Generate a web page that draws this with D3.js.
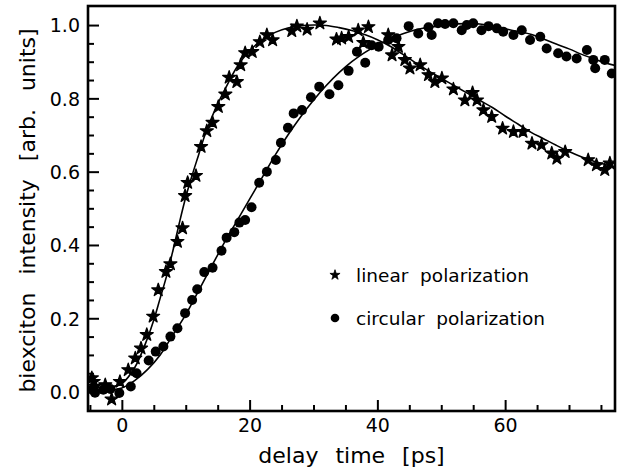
<!DOCTYPE html>
<html><head><meta charset="utf-8">
<script src="https://cdn.jsdelivr.net/npm/d3@7"></script>
<style>
html,body{margin:0;padding:0;background:#fff;}
svg{display:block;font-family:"DejaVu Sans",sans-serif;}
</style></head>
<body>
<svg id="chart" width="623" height="470"></svg>
<script>
// ---- data ----
const linearT = [-4.7,-4.4,-4.2,-2.6,-1.6,-0.3,1.0,2.1,3.0,3.9,4.9,5.7,6.9,7.6,8.7,9.5,9.9,10.3,11.6,12.4,13.3,14.2,15.1,16.2,16.8,18.0,18.6,19.3,20.4,21.6,22.7,23.6,26.6,27.4,29.0,31.0,33.6,34.4,35.5,37.0,37.8,38.6,41.7,42.3,43.3,44.3,45.1,46.7,48.0,49.0,50.1,51.9,53.7,54.9,55.6,56.6,57.9,59.6,61.3,62.8,64.2,65.7,67.3,68.1,69.4,73.0,74.3,75.6,76.4];
const linearV = [0.037,0.027,0.014,0.018,-0.021,0.027,0.059,0.091,0.118,0.155,0.205,0.277,0.327,0.348,0.409,0.446,0.534,0.570,0.589,0.668,0.711,0.734,0.777,0.811,0.857,0.845,0.891,0.924,0.927,0.954,0.973,0.959,0.984,0.997,0.988,1.005,0.961,0.964,0.968,0.986,0.952,0.995,0.973,0.918,0.941,0.905,0.882,0.891,0.864,0.845,0.855,0.825,0.795,0.815,0.795,0.768,0.750,0.718,0.709,0.709,0.677,0.673,0.650,0.636,0.654,0.632,0.618,0.605,0.623];
const circularT = [-4.6,-4.2,-2.9,-1.8,-0.4,1.4,2.3,4.2,5.3,6.5,7.6,8.7,9.9,11.0,11.8,12.9,14.2,15.6,16.4,17.6,18.4,19.3,20.3,21.5,22.7,24.1,24.9,26.0,26.9,28.2,29.6,30.9,32.5,33.9,35.5,36.8,38.1,39.1,40.2,41.7,43.0,44.9,46.4,48.0,48.5,49.5,50.6,51.9,53.2,54.0,55.0,56.3,57.4,58.7,59.7,61.3,62.6,63.9,65.5,66.5,68.3,69.6,71.2,72.8,73.8,74.1,75.6,76.7];
const circularV = [0.005,-0.003,0.005,0.007,-0.004,0.014,0.050,0.085,0.109,0.123,0.150,0.173,0.214,0.250,0.279,0.326,0.338,0.384,0.420,0.435,0.461,0.468,0.503,0.570,0.600,0.632,0.679,0.720,0.759,0.768,0.803,0.832,0.811,0.836,0.875,0.927,0.897,0.945,0.941,0.959,0.964,0.997,0.977,0.994,0.973,1.005,1.003,1.005,0.986,1.000,1.005,0.986,0.997,0.991,0.982,0.973,0.986,0.959,0.968,0.936,0.923,0.914,0.909,0.932,0.905,0.882,0.905,0.868];
const linearFitT = [-5.3,-2,0,2,4,5,6,7,8,9,10,11,12,13,14,15,16,18,20,22,24,26,28,30,32,34,36,38,40,42,44,46,48,50,52,54,56,58,60,62,64,66,68,70,72,74,76,77.2];
const linearFitV = [0.012,0.012,0.022,0.065,0.145,0.195,0.255,0.315,0.385,0.46,0.53,0.59,0.645,0.70,0.745,0.785,0.82,0.885,0.93,0.96,0.98,0.992,0.998,1.0,0.999,0.993,0.985,0.974,0.96,0.942,0.92,0.897,0.875,0.855,0.835,0.815,0.795,0.775,0.752,0.73,0.708,0.69,0.672,0.655,0.64,0.628,0.618,0.612];
const circularFitT = [-5.3,-2,0,2,4,6,8,10,12,14,16,18,20,22,24,26,28,30,32,34,36,38,40,42,44,46,48,50,52,54,56,58,60,62,64,66,68,70,72,74,76,77.2];
const circularFitV = [0.005,0.005,0.01,0.03,0.06,0.10,0.155,0.21,0.275,0.34,0.405,0.465,0.525,0.585,0.645,0.70,0.75,0.795,0.835,0.87,0.90,0.925,0.945,0.962,0.976,0.987,0.994,0.998,1.003,1.004,1.003,0.997,0.99,0.982,0.975,0.962,0.948,0.935,0.92,0.907,0.895,0.89];
const xMajorTicks = [0,20,40,60];
const xMinorTicks = [-5,5,10,15,25,30,35,45,50,55,65,70,75];
const yMajorTicks = [0.0,0.2,0.4,0.6,0.8,1.0];
const yMinorTicks = [0.05,0.1,0.15,0.25,0.3,0.35,0.45,0.5,0.55,0.65,0.7,0.75,0.85,0.9,0.95];
const legendLabels = ["linear  polarization","circular  polarization"];
const xTitle = "delay time [ps]";
const yTitle = "biexciton intensity [arb. units]";

// ---- drawing ----
const svg = d3.select("#chart");
const L = 88, R = 615, T = 6, B = 411;
const x = d3.scaleLinear().domain([-5.3, 77.2]).range([L, R]);
const y = d3.scaleLinear().domain([-0.053, 1.052]).range([B, T]);

svg.append("defs").append("clipPath").attr("id","clip")
  .append("rect").attr("x",L).attr("y",T).attr("width",R-L).attr("height",B-T);

// axes
const ax = svg.append("g").attr("transform",`translate(0,${B})`)
  .call(d3.axisBottom(x).tickValues(xMajorTicks).tickSize(-11).tickPadding(7.5).tickFormat(d3.format("d")));
const axm = svg.append("g").attr("transform",`translate(0,${B})`)
  .call(d3.axisBottom(x).tickValues(xMinorTicks).tickSize(-6).tickFormat(""));
const ay = svg.append("g").attr("transform",`translate(${L},0)`)
  .call(d3.axisLeft(y).tickValues(yMajorTicks).tickSize(-11).tickPadding(8).tickFormat(d3.format(".1f")));
const aym = svg.append("g").attr("transform",`translate(${L},0)`)
  .call(d3.axisLeft(y).tickValues(yMinorTicks).tickSize(-6).tickFormat(""));
[ax,axm,ay,aym].forEach(g=>{
  g.select(".domain").remove();
  g.selectAll("line").attr("stroke","#000").attr("stroke-width",2);
  g.selectAll("text").attr("font-size",19).attr("font-family","DejaVu Sans").attr("fill","#000");
});
ay.selectAll("text").attr("dy","0.36em");

// frame
svg.append("rect").attr("x",L).attr("y",T).attr("width",R-L).attr("height",B-T)
  .attr("fill","none").attr("stroke","#000").attr("stroke-width",2.6);

const plot = svg.append("g").attr("clip-path","url(#clip)");
const line = d3.line().x(d=>x(d[0])).y(d=>y(d[1])).curve(d3.curveCatmullRom.alpha(0.5));
plot.append("path").datum(d3.zip(linearFitT, linearFitV)).attr("d",line)
  .attr("fill","none").attr("stroke","#000").attr("stroke-width",1.6);
plot.append("path").datum(d3.zip(circularFitT, circularFitV)).attr("d",line)
  .attr("fill","none").attr("stroke","#000").attr("stroke-width",1.6);

const star = d3.symbol().type(d3.symbolStar).size(52);
plot.selectAll(".star").data(d3.zip(linearT, linearV)).join("path")
  .attr("class","star").attr("d",star)
  .attr("transform",d=>`translate(${x(d[0])},${y(d[1])})`)
  .attr("fill","#000").attr("stroke","#000").attr("stroke-width",1.3).attr("stroke-linejoin","round");
plot.selectAll(".dot").data(d3.zip(circularT, circularV)).join("circle")
  .attr("class","dot").attr("cx",d=>x(d[0])).attr("cy",d=>y(d[1])).attr("r",5).attr("fill","#000");

// legend
const lg = svg.append("g");
lg.append("path").attr("d",d3.symbol().type(d3.symbolStar).size(32)).attr("transform","translate(335,275)")
  .attr("fill","#000").attr("stroke","#000").attr("stroke-width",0.8);
lg.append("circle").attr("cx",335).attr("cy",318).attr("r",4.3).attr("fill","#000");
lg.selectAll("text").data(legendLabels).join("text")
  .attr("x",356).attr("y",(d,i)=>282+i*43).attr("font-size",18.5).attr("fill","#000")
  .style("white-space","pre").text(d=>d);

// titles
svg.append("text").attr("x",(L+R)/2).attr("y",463).attr("text-anchor","middle")
  .attr("font-size",22).attr("word-spacing",10).text(xTitle);
svg.append("text").attr("transform",`translate(35,${(T+B)/2 + 2}) rotate(-90)`).attr("text-anchor","middle")
  .attr("font-size",22).attr("word-spacing",11).text(yTitle);
</script>
</body></html>
